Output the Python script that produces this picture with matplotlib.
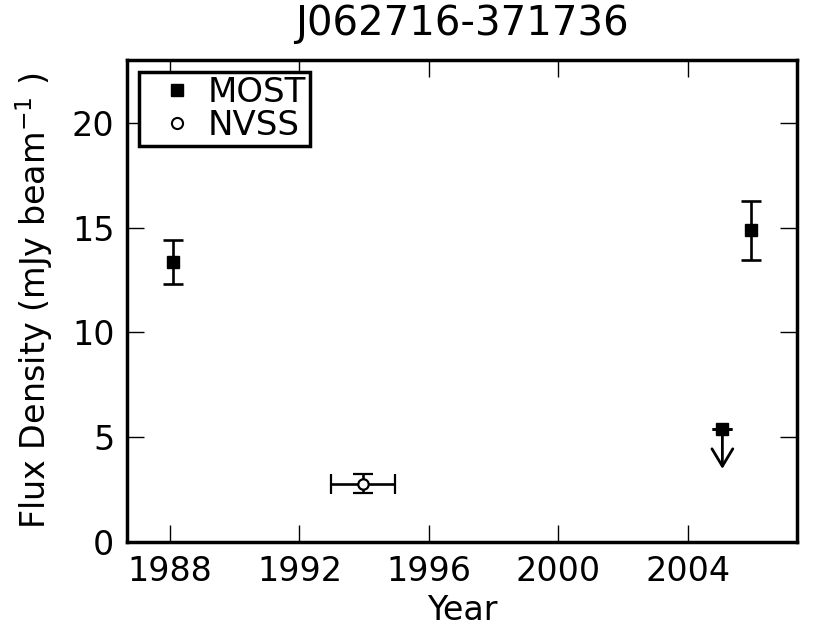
"""
Light curve of J062716-371736: MOST and NVSS flux densities over time.
"""
import matplotlib
matplotlib.use("Agg")
import matplotlib.pyplot as plt
from matplotlib.lines import Line2D

SOURCE = "J062716-371736"

# MOST detections
most_year = [1988.09, 2005.95]
most_flux = [13.38, 14.87]
most_err = [1.05, 1.41]

# MOST upper limit
most_lim_year = [2005.07]
most_lim_flux = [5.39]
lim_arrow = 1.9

# NVSS detection
nvss_year = [1993.96]
nvss_flux = [2.79]
nvss_yerr = [0.45]
nvss_xerr = [1.0]

x_ticks = [1988, 1992, 1996, 2000, 2004]
y_ticks = [0, 5, 10, 15, 20]


def plot_lightcurve(out_path):
    fig = plt.figure(figsize=(8.3, 6.31), dpi=100)
    ax = fig.add_axes([0.153, 0.141, 0.807, 0.764])

    ebar = dict(ecolor="black", elinewidth=1.9, capsize=7.5, capthick=1.9)

    ax.errorbar(most_year, most_flux, yerr=most_err, fmt="s", color="black",
                markersize=8.5, **ebar)
    ax.errorbar(most_lim_year, most_lim_flux, yerr=[0], fmt="s", color="black",
                markersize=8.5, **ebar)
    for x, y in zip(most_lim_year, most_lim_flux):
        ax.annotate("", xy=(x, y - lim_arrow), xytext=(x, y),
                    arrowprops=dict(arrowstyle="->,head_length=1.25,head_width=0.75",
                                    lw=2.0, color="black", shrinkA=0, shrinkB=0,
                                    mutation_scale=10))
    ax.errorbar(nvss_year, nvss_flux, yerr=nvss_yerr, xerr=nvss_xerr, fmt="o",
                mfc="white", mec="black", mew=1.6, markersize=7.5, **ebar)

    ax.set_xlim(1986.67, 2007.37)
    ax.set_ylim(0, 23)
    ax.set_xticks(x_ticks)
    ax.set_yticks(y_ticks)
    ax.tick_params(direction="in", length=12, width=1, labelsize=24,
                   top=True, right=True, pad=9)
    for side in ax.spines.values():
        side.set_linewidth(2.5)

    ax.set_xlabel("Year", fontsize=24, labelpad=5)
    ax.set_ylabel(r"Flux Density (mJy beam$^{-1}$ )", fontsize=24, labelpad=12)
    ax.set_title(SOURCE, fontsize=29, pad=18)

    handles = [
        Line2D([], [], ls="none", marker="s", color="black", markersize=8),
        Line2D([], [], ls="none", marker="o", mfc="white", mec="black",
               mew=1.5, markersize=8),
    ]
    leg = ax.legend(handles, ["MOST", "NVSS"], loc="upper left", numpoints=1,
                    fontsize=24.5, fancybox=False, borderaxespad=0.35,
                    handletextpad=-0.1, borderpad=0.12, labelspacing=0.0,
                    handlelength=2.0)
    leg.get_frame().set_edgecolor("black")
    leg.get_frame().set_linewidth(2.5)
    leg.get_frame().set_alpha(1)

    fig.savefig(out_path, dpi=100)


if __name__ == "__main__":
    plot_lightcurve("out.png")
